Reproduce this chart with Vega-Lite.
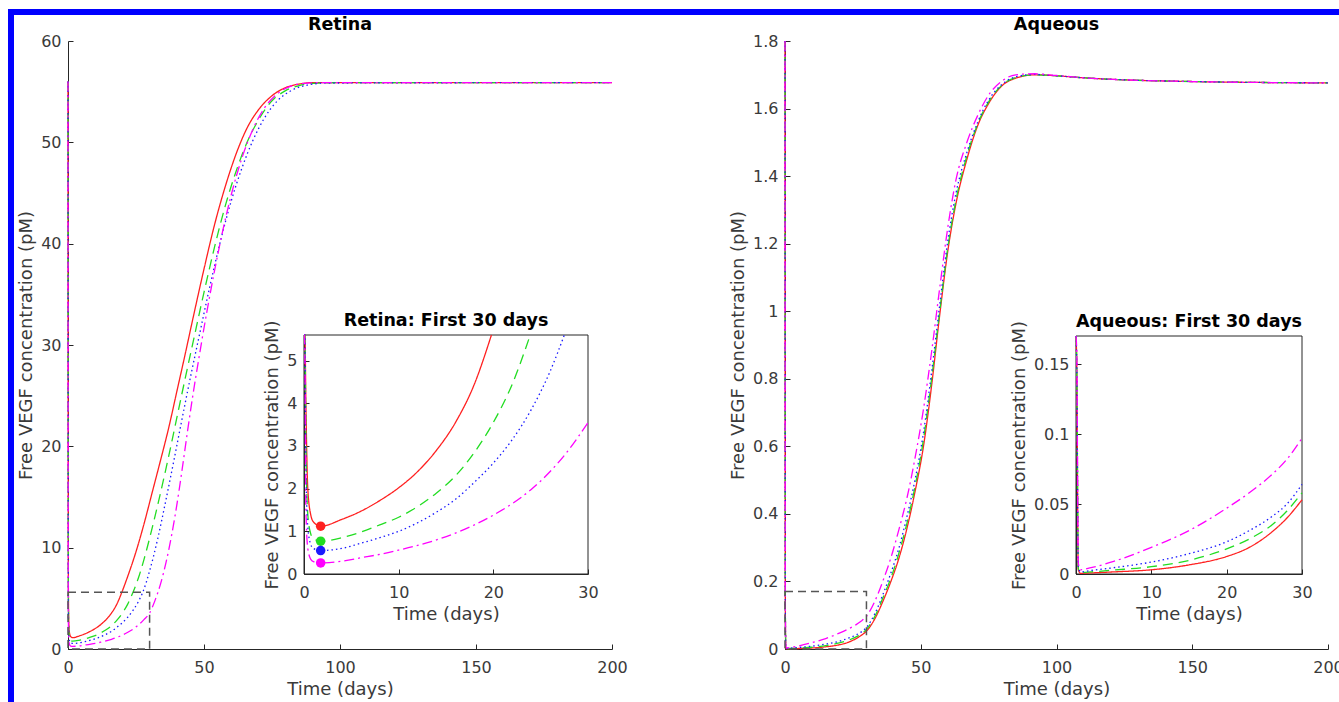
{
  "$schema": "https://vega.github.io/schema/vega-lite/v6.json",
  "width": 1340,
  "height": 700,
  "autosize": {"type": "none"},
  "padding": {"left": 11, "top": 12, "right": -12, "bottom": -10},
  "background": "white",
  "config": {
    "view": {"stroke": "#0000ff", "strokeWidth": 6},
    "font": "DejaVu Sans",
    "axis": {
      "grid": false,
      "domainColor": "#262626",
      "tickColor": "#262626",
      "labelColor": "#3a3a3a",
      "titleColor": "#3a3a3a",
      "labelFont": "DejaVu Sans",
      "titleFont": "DejaVu Sans",
      "labelFontSize": 16,
      "titleFontSize": 18,
      "titleFontWeight": "normal",
      "tickSize": -5,
      "domainWidth": 1,
      "titlePadding": 5,
      "labelFlush": false,
      "labelOverlap": false
    },
    "axisX": {"labelPadding": 15},
    "axisY": {"labelPadding": 12},
    "line": {"interpolate": "monotone", "strokeWidth": 1.3},
    "text": {"font": "DejaVu Sans", "fontWeight": "bold", "fontSize": 17.5, "color": "#000000"}
  },
  "datasets": {
    "retina": [
      {"s":"s1","t":0,"v":56},{"s":"s1","t":0.05,"v":25},{"s":"s1","t":0.1,"v":10},{"s":"s1","t":0.2,"v":4},{"s":"s1","t":0.4,"v":2},{"s":"s1","t":0.7,"v":1.4},{"s":"s1","t":1,"v":1.22},{"s":"s1","t":1.76,"v":1.12},{"s":"s1","t":4,"v":1.28},{"s":"s1","t":6,"v":1.47},{"s":"s1","t":8,"v":1.72},{"s":"s1","t":10,"v":2.02},{"s":"s1","t":12,"v":2.4},{"s":"s1","t":14,"v":2.9},{"s":"s1","t":16,"v":3.55},{"s":"s1","t":18,"v":4.45},{"s":"s1","t":19.8,"v":5.6},{"s":"s1","t":22,"v":7.2},{"s":"s1","t":25,"v":9.6},{"s":"s1","t":28,"v":12.4},{"s":"s1","t":31,"v":15.5},{"s":"s1","t":34,"v":18.6},{"s":"s1","t":37,"v":21.8},{"s":"s1","t":40,"v":25.4},{"s":"s1","t":43,"v":29},{"s":"s1","t":46,"v":32.7},{"s":"s1","t":50,"v":37.5},{"s":"s1","t":54,"v":42},{"s":"s1","t":58,"v":45.8},{"s":"s1","t":62,"v":49},{"s":"s1","t":66,"v":51.5},{"s":"s1","t":70,"v":53.2},{"s":"s1","t":75,"v":54.6},{"s":"s1","t":80,"v":55.4},{"s":"s1","t":85,"v":55.75},{"s":"s1","t":90,"v":55.9},{"s":"s1","t":100,"v":55.9},{"s":"s1","t":200,"v":55.9},
      {"s":"s2","t":0,"v":56},{"s":"s2","t":0.05,"v":22},{"s":"s2","t":0.1,"v":8},{"s":"s2","t":0.2,"v":3},{"s":"s2","t":0.4,"v":1.4},{"s":"s2","t":0.7,"v":0.95},{"s":"s2","t":1,"v":0.83},{"s":"s2","t":1.76,"v":0.77},{"s":"s2","t":4,"v":0.85},{"s":"s2","t":6,"v":0.98},{"s":"s2","t":8,"v":1.15},{"s":"s2","t":10,"v":1.33},{"s":"s2","t":12,"v":1.58},{"s":"s2","t":14,"v":1.9},{"s":"s2","t":16,"v":2.3},{"s":"s2","t":18,"v":2.85},{"s":"s2","t":20,"v":3.55},{"s":"s2","t":22,"v":4.45},{"s":"s2","t":23.9,"v":5.6},{"s":"s2","t":26,"v":7.1},{"s":"s2","t":28,"v":8.9},{"s":"s2","t":31,"v":12},{"s":"s2","t":34,"v":15.4},{"s":"s2","t":37,"v":19},{"s":"s2","t":40,"v":22.8},{"s":"s2","t":43,"v":26.6},{"s":"s2","t":46,"v":30.3},{"s":"s2","t":50,"v":35.2},{"s":"s2","t":54,"v":39.8},{"s":"s2","t":58,"v":43.9},{"s":"s2","t":62,"v":47.3},{"s":"s2","t":66,"v":50.1},{"s":"s2","t":70,"v":52.2},{"s":"s2","t":75,"v":54.1},{"s":"s2","t":80,"v":55.1},{"s":"s2","t":85,"v":55.6},{"s":"s2","t":92,"v":55.85},{"s":"s2","t":100,"v":55.9},{"s":"s2","t":200,"v":55.9},
      {"s":"s3","t":0,"v":56},{"s":"s3","t":0.05,"v":20},{"s":"s3","t":0.1,"v":7},{"s":"s3","t":0.2,"v":2.5},{"s":"s3","t":0.4,"v":1.1},{"s":"s3","t":0.7,"v":0.7},{"s":"s3","t":1,"v":0.6},{"s":"s3","t":1.76,"v":0.55},{"s":"s3","t":4,"v":0.6},{"s":"s3","t":6,"v":0.72},{"s":"s3","t":8,"v":0.85},{"s":"s3","t":10,"v":1.0},{"s":"s3","t":12,"v":1.2},{"s":"s3","t":14,"v":1.45},{"s":"s3","t":16,"v":1.75},{"s":"s3","t":18,"v":2.15},{"s":"s3","t":20,"v":2.6},{"s":"s3","t":22,"v":3.15},{"s":"s3","t":24,"v":3.85},{"s":"s3","t":26,"v":4.75},{"s":"s3","t":27.5,"v":5.6},{"s":"s3","t":30,"v":7.7},{"s":"s3","t":33,"v":10.9},{"s":"s3","t":36,"v":14.7},{"s":"s3","t":39,"v":18.7},{"s":"s3","t":42,"v":22.8},{"s":"s3","t":45,"v":26.8},{"s":"s3","t":48,"v":30.6},{"s":"s3","t":52,"v":35.6},{"s":"s3","t":56,"v":40.2},{"s":"s3","t":60,"v":44.2},{"s":"s3","t":64,"v":47.5},{"s":"s3","t":68,"v":50.2},{"s":"s3","t":72,"v":52.3},{"s":"s3","t":77,"v":54.1},{"s":"s3","t":82,"v":55.1},{"s":"s3","t":88,"v":55.65},{"s":"s3","t":95,"v":55.85},{"s":"s3","t":200,"v":55.9},
      {"s":"s4","t":0,"v":56},{"s":"s4","t":0.05,"v":18},{"s":"s4","t":0.1,"v":5},{"s":"s4","t":0.2,"v":1.5},{"s":"s4","t":0.4,"v":0.6},{"s":"s4","t":0.7,"v":0.35},{"s":"s4","t":1,"v":0.29},{"s":"s4","t":1.76,"v":0.26},{"s":"s4","t":4,"v":0.3},{"s":"s4","t":6,"v":0.38},{"s":"s4","t":8,"v":0.46},{"s":"s4","t":10,"v":0.56},{"s":"s4","t":12,"v":0.67},{"s":"s4","t":14,"v":0.8},{"s":"s4","t":16,"v":0.96},{"s":"s4","t":18,"v":1.15},{"s":"s4","t":20,"v":1.38},{"s":"s4","t":22,"v":1.65},{"s":"s4","t":24,"v":1.98},{"s":"s4","t":26,"v":2.4},{"s":"s4","t":28,"v":2.92},{"s":"s4","t":30,"v":3.55},{"s":"s4","t":32,"v":4.8},{"s":"s4","t":34,"v":6.4},{"s":"s4","t":36,"v":8.5},{"s":"s4","t":38,"v":11.1},{"s":"s4","t":40,"v":14.2},{"s":"s4","t":42,"v":17.8},{"s":"s4","t":44,"v":21.6},{"s":"s4","t":46,"v":25.2},{"s":"s4","t":48,"v":28.5},{"s":"s4","t":51,"v":33.2},{"s":"s4","t":54,"v":37.5},{"s":"s4","t":57,"v":41.4},{"s":"s4","t":60,"v":44.8},{"s":"s4","t":64,"v":48.5},{"s":"s4","t":68,"v":51.3},{"s":"s4","t":72,"v":53.3},{"s":"s4","t":77,"v":54.8},{"s":"s4","t":82,"v":55.55},{"s":"s4","t":88,"v":55.85},{"s":"s4","t":95,"v":55.9},{"s":"s4","t":200,"v":55.9}
    ],
    "aqueous": [
      {"s":"s1","t":0,"v":1.8},{"s":"s1","t":0.1,"v":0.15},{"s":"s1","t":0.3,"v":0.003},{"s":"s1","t":0.6,"v":0.0005},{"s":"s1","t":2,"v":0.0008},{"s":"s1","t":5,"v":0.0015},{"s":"s1","t":10,"v":0.003},{"s":"s1","t":15,"v":0.0065},{"s":"s1","t":20,"v":0.0125},{"s":"s1","t":23,"v":0.019},{"s":"s1","t":26,"v":0.03},{"s":"s1","t":28,"v":0.04},{"s":"s1","t":30,"v":0.053},{"s":"s1","t":33,"v":0.088},{"s":"s1","t":36,"v":0.14},{"s":"s1","t":39,"v":0.2},{"s":"s1","t":42,"v":0.27},{"s":"s1","t":45,"v":0.36},{"s":"s1","t":48,"v":0.47},{"s":"s1","t":51,"v":0.6},{"s":"s1","t":54,"v":0.78},{"s":"s1","t":57,"v":0.99},{"s":"s1","t":60,"v":1.18},{"s":"s1","t":63,"v":1.32},{"s":"s1","t":67,"v":1.45},{"s":"s1","t":71,"v":1.55},{"s":"s1","t":75,"v":1.615},{"s":"s1","t":80,"v":1.668},{"s":"s1","t":85,"v":1.69},{"s":"s1","t":92,"v":1.7},{"s":"s1","t":100,"v":1.697},{"s":"s1","t":110,"v":1.691},{"s":"s1","t":125,"v":1.685},{"s":"s1","t":150,"v":1.68},{"s":"s1","t":200,"v":1.676},
      {"s":"s2","t":0,"v":1.8},{"s":"s2","t":0.1,"v":0.15},{"s":"s2","t":0.3,"v":0.004},{"s":"s2","t":0.6,"v":0.001},{"s":"s2","t":2,"v":0.0015},{"s":"s2","t":5,"v":0.0028},{"s":"s2","t":10,"v":0.0052},{"s":"s2","t":15,"v":0.0097},{"s":"s2","t":20,"v":0.018},{"s":"s2","t":23,"v":0.025},{"s":"s2","t":26,"v":0.035},{"s":"s2","t":28,"v":0.045},{"s":"s2","t":30,"v":0.058},{"s":"s2","t":33,"v":0.095},{"s":"s2","t":36,"v":0.15},{"s":"s2","t":39,"v":0.21},{"s":"s2","t":42,"v":0.285},{"s":"s2","t":45,"v":0.375},{"s":"s2","t":48,"v":0.485},{"s":"s2","t":51,"v":0.62},{"s":"s2","t":54,"v":0.8},{"s":"s2","t":57,"v":1.0},{"s":"s2","t":60,"v":1.19},{"s":"s2","t":63,"v":1.33},{"s":"s2","t":67,"v":1.46},{"s":"s2","t":71,"v":1.555},{"s":"s2","t":75,"v":1.62},{"s":"s2","t":80,"v":1.67},{"s":"s2","t":85,"v":1.692},{"s":"s2","t":92,"v":1.7},{"s":"s2","t":100,"v":1.697},{"s":"s2","t":110,"v":1.691},{"s":"s2","t":125,"v":1.685},{"s":"s2","t":150,"v":1.68},{"s":"s2","t":200,"v":1.676},
      {"s":"s3","t":0,"v":1.8},{"s":"s3","t":0.1,"v":0.15},{"s":"s3","t":0.3,"v":0.005},{"s":"s3","t":0.6,"v":0.0015},{"s":"s3","t":2,"v":0.0025},{"s":"s3","t":5,"v":0.0045},{"s":"s3","t":10,"v":0.0085},{"s":"s3","t":15,"v":0.0145},{"s":"s3","t":20,"v":0.023},{"s":"s3","t":23,"v":0.031},{"s":"s3","t":26,"v":0.041},{"s":"s3","t":28,"v":0.05},{"s":"s3","t":30,"v":0.064},{"s":"s3","t":33,"v":0.103},{"s":"s3","t":36,"v":0.16},{"s":"s3","t":39,"v":0.225},{"s":"s3","t":42,"v":0.3},{"s":"s3","t":45,"v":0.395},{"s":"s3","t":48,"v":0.505},{"s":"s3","t":51,"v":0.64},{"s":"s3","t":54,"v":0.82},{"s":"s3","t":57,"v":1.02},{"s":"s3","t":60,"v":1.21},{"s":"s3","t":63,"v":1.35},{"s":"s3","t":67,"v":1.47},{"s":"s3","t":71,"v":1.56},{"s":"s3","t":75,"v":1.625},{"s":"s3","t":80,"v":1.672},{"s":"s3","t":85,"v":1.694},{"s":"s3","t":92,"v":1.701},{"s":"s3","t":100,"v":1.697},{"s":"s3","t":110,"v":1.691},{"s":"s3","t":125,"v":1.685},{"s":"s3","t":150,"v":1.68},{"s":"s3","t":200,"v":1.676},
      {"s":"s4","t":0,"v":1.8},{"s":"s4","t":0.1,"v":0.16},{"s":"s4","t":0.3,"v":0.008},{"s":"s4","t":0.6,"v":0.003},{"s":"s4","t":2,"v":0.0045},{"s":"s4","t":5,"v":0.009},{"s":"s4","t":10,"v":0.019},{"s":"s4","t":15,"v":0.031},{"s":"s4","t":20,"v":0.047},{"s":"s4","t":23,"v":0.058},{"s":"s4","t":26,"v":0.071},{"s":"s4","t":28,"v":0.082},{"s":"s4","t":30,"v":0.097},{"s":"s4","t":33,"v":0.14},{"s":"s4","t":36,"v":0.2},{"s":"s4","t":39,"v":0.27},{"s":"s4","t":42,"v":0.355},{"s":"s4","t":45,"v":0.45},{"s":"s4","t":48,"v":0.57},{"s":"s4","t":51,"v":0.71},{"s":"s4","t":54,"v":0.88},{"s":"s4","t":57,"v":1.07},{"s":"s4","t":60,"v":1.25},{"s":"s4","t":63,"v":1.39},{"s":"s4","t":67,"v":1.5},{"s":"s4","t":71,"v":1.58},{"s":"s4","t":75,"v":1.64},{"s":"s4","t":80,"v":1.682},{"s":"s4","t":85,"v":1.7},{"s":"s4","t":92,"v":1.703},{"s":"s4","t":100,"v":1.698},{"s":"s4","t":110,"v":1.691},{"s":"s4","t":125,"v":1.685},{"s":"s4","t":150,"v":1.68},{"s":"s4","t":200,"v":1.676}
    ],
    "minima": [
      {"s":"s1","t":1.76,"v":1.12},{"s":"s2","t":1.76,"v":0.77},{"s":"s3","t":1.76,"v":0.55},{"s":"s4","t":1.76,"v":0.26}
    ]
  },
  "layer": [
    {
      "layer": [
        {
          "data": {"name": "retina"},
          "mark": {"type": "line"},
          "encoding": {
            "x": {"field": "t", "type": "quantitative", "scale": {"domain": [0, 200], "range": [57, 601], "nice": false, "zero": false}, "axis": {"orient": "bottom", "offset": -63, "values": [0, 50, 100, 150, 200], "title": "Time (days)"}},
            "y": {"field": "v", "type": "quantitative", "scale": {"domain": [0, 60], "range": [637, 29], "nice": false}, "axis": {"orient": "left", "offset": -57, "values": [0, 10, 20, 30, 40, 50, 60], "title": "Free VEGF concentration (pM)"}},
            "color": {"field": "s", "type": "nominal", "scale": {"domain": ["s1", "s2", "s3", "s4"], "range": ["#ff2020", "#22dd22", "#1a1aff", "#ff00ff"]}, "legend": null},
            "strokeDash": {"field": "s", "type": "nominal", "scale": {"domain": ["s1", "s2", "s3", "s4"], "range": [[1, 0], [10, 6], [1.5, 3], [10, 4, 2, 4]]}, "legend": null}
          }
        },
        {
          "data": {"values": [{}]},
          "mark": {"type": "rect", "fillOpacity": 0, "stroke": "#555555", "strokeDash": [8, 5], "strokeWidth": 1.5},
          "encoding": {
            "x": {"datum": 0, "type": "quantitative", "scale": {"domain": [0, 200], "range": [57, 601], "nice": false, "zero": false}, "axis": {"orient": "bottom", "offset": -63, "values": [0, 50, 100, 150, 200], "title": "Time (days)"}},
            "x2": {"datum": 30},
            "y": {"datum": 0, "type": "quantitative", "scale": {"domain": [0, 60], "range": [637, 29], "nice": false}, "axis": {"orient": "left", "offset": -57, "values": [0, 10, 20, 30, 40, 50, 60], "title": "Free VEGF concentration (pM)"}},
            "y2": {"datum": 5.6}
          }
        },
        {
          "data": {"values": [{}]},
          "mark": {"type": "text", "text": "Retina", "dy": -16},
          "encoding": {
            "x": {"datum": 100, "type": "quantitative", "scale": {"domain": [0, 200], "range": [57, 601], "nice": false, "zero": false}, "axis": {"orient": "bottom", "offset": -63, "values": [0, 50, 100, 150, 200], "title": "Time (days)"}},
            "y": {"datum": 60, "type": "quantitative", "scale": {"domain": [0, 60], "range": [637, 29], "nice": false}, "axis": {"orient": "left", "offset": -57, "values": [0, 10, 20, 30, 40, 50, 60], "title": "Free VEGF concentration (pM)"}}
          }
        }
      ]
    },
    {
      "layer": [
        {
          "data": {"values": [{}]},
          "mark": {"type": "rect", "fillOpacity": 0, "stroke": "#262626", "strokeWidth": 1},
          "encoding": {
            "x": {"datum": 0, "type": "quantitative", "scale": {"domain": [0, 30], "range": [293, 577], "nice": false, "zero": false}, "axis": {"orient": "bottom", "offset": -138, "values": [0, 10, 20, 30], "title": "Time (days)"}},
            "x2": {"datum": 30},
            "y": {"datum": 0, "type": "quantitative", "scale": {"domain": [0, 5.6], "range": [562, 323], "nice": false, "clamp": true}, "axis": {"orient": "left", "offset": -293, "values": [0, 1, 2, 3, 4, 5], "title": "Free VEGF concentration (pM)"}},
            "y2": {"datum": 5.6}
          }
        },
        {
          "data": {"name": "retina"},
          "transform": [{"filter": "datum.t <= 30 && (datum.v <= 5.65 || datum.t < 0.3)"}],
          "mark": {"type": "line"},
          "encoding": {
            "x": {"field": "t", "type": "quantitative", "scale": {"domain": [0, 30], "range": [293, 577], "nice": false, "zero": false}, "axis": {"orient": "bottom", "offset": -138, "values": [0, 10, 20, 30], "title": "Time (days)"}},
            "y": {"field": "v", "type": "quantitative", "scale": {"domain": [0, 5.6], "range": [562, 323], "nice": false, "clamp": true}, "axis": {"orient": "left", "offset": -293, "values": [0, 1, 2, 3, 4, 5], "title": "Free VEGF concentration (pM)"}},
            "color": {"field": "s", "type": "nominal", "scale": {"domain": ["s1", "s2", "s3", "s4"], "range": ["#ff2020", "#22dd22", "#1a1aff", "#ff00ff"]}, "legend": null},
            "strokeDash": {"field": "s", "type": "nominal", "scale": {"domain": ["s1", "s2", "s3", "s4"], "range": [[1, 0], [10, 6], [1.5, 3], [10, 4, 2, 4]]}, "legend": null}
          }
        },
        {
          "data": {"name": "minima"},
          "mark": {"type": "point", "filled": true, "size": 90, "opacity": 1},
          "encoding": {
            "x": {"field": "t", "type": "quantitative", "scale": {"domain": [0, 30], "range": [293, 577], "nice": false, "zero": false}, "axis": {"orient": "bottom", "offset": -138, "values": [0, 10, 20, 30], "title": "Time (days)"}},
            "y": {"field": "v", "type": "quantitative", "scale": {"domain": [0, 5.6], "range": [562, 323], "nice": false, "clamp": true}, "axis": {"orient": "left", "offset": -293, "values": [0, 1, 2, 3, 4, 5], "title": "Free VEGF concentration (pM)"}},
            "color": {"field": "s", "type": "nominal", "scale": {"domain": ["s1", "s2", "s3", "s4"], "range": ["#ff2020", "#22dd22", "#1a1aff", "#ff00ff"]}, "legend": null}
          }
        },
        {
          "data": {"values": [{}]},
          "mark": {"type": "text", "text": "Retina: First 30 days", "dy": -14},
          "encoding": {
            "x": {"datum": 15, "type": "quantitative", "scale": {"domain": [0, 30], "range": [293, 577], "nice": false, "zero": false}, "axis": {"orient": "bottom", "offset": -138, "values": [0, 10, 20, 30], "title": "Time (days)"}},
            "y": {"datum": 5.6, "type": "quantitative", "scale": {"domain": [0, 5.6], "range": [562, 323], "nice": false, "clamp": true}, "axis": {"orient": "left", "offset": -293, "values": [0, 1, 2, 3, 4, 5], "title": "Free VEGF concentration (pM)"}}
          }
        }
      ]
    },
    {
      "layer": [
        {
          "data": {"name": "aqueous"},
          "mark": {"type": "line"},
          "encoding": {
            "x": {"field": "t", "type": "quantitative", "scale": {"domain": [0, 200], "range": [774, 1317], "nice": false, "zero": false}, "axis": {"orient": "bottom", "offset": -63, "values": [0, 50, 100, 150, 200], "title": "Time (days)"}},
            "y": {"field": "v", "type": "quantitative", "scale": {"domain": [0, 1.8], "range": [637, 29], "nice": false}, "axis": {"orient": "left", "offset": -774, "values": [0, 0.2, 0.4, 0.6, 0.8, 1, 1.2, 1.4, 1.6, 1.8], "format": "~g", "title": "Free VEGF concentration (pM)"}},
            "color": {"field": "s", "type": "nominal", "scale": {"domain": ["s1", "s2", "s3", "s4"], "range": ["#ff2020", "#22dd22", "#1a1aff", "#ff00ff"]}, "legend": null},
            "strokeDash": {"field": "s", "type": "nominal", "scale": {"domain": ["s1", "s2", "s3", "s4"], "range": [[1, 0], [10, 6], [1.5, 3], [10, 4, 2, 4]]}, "legend": null}
          }
        },
        {
          "data": {"values": [{}]},
          "mark": {"type": "rect", "fillOpacity": 0, "stroke": "#555555", "strokeDash": [8, 5], "strokeWidth": 1.5},
          "encoding": {
            "x": {"datum": 0, "type": "quantitative", "scale": {"domain": [0, 200], "range": [774, 1317], "nice": false, "zero": false}, "axis": {"orient": "bottom", "offset": -63, "values": [0, 50, 100, 150, 200], "title": "Time (days)"}},
            "x2": {"datum": 30},
            "y": {"datum": 0, "type": "quantitative", "scale": {"domain": [0, 1.8], "range": [637, 29], "nice": false}, "axis": {"orient": "left", "offset": -774, "values": [0, 0.2, 0.4, 0.6, 0.8, 1, 1.2, 1.4, 1.6, 1.8], "format": "~g", "title": "Free VEGF concentration (pM)"}},
            "y2": {"datum": 0.17}
          }
        },
        {
          "data": {"values": [{}]},
          "mark": {"type": "text", "text": "Aqueous", "dy": -16},
          "encoding": {
            "x": {"datum": 100, "type": "quantitative", "scale": {"domain": [0, 200], "range": [774, 1317], "nice": false, "zero": false}, "axis": {"orient": "bottom", "offset": -63, "values": [0, 50, 100, 150, 200], "title": "Time (days)"}},
            "y": {"datum": 1.8, "type": "quantitative", "scale": {"domain": [0, 1.8], "range": [637, 29], "nice": false}, "axis": {"orient": "left", "offset": -774, "values": [0, 0.2, 0.4, 0.6, 0.8, 1, 1.2, 1.4, 1.6, 1.8], "format": "~g", "title": "Free VEGF concentration (pM)"}}
          }
        }
      ]
    },
    {
      "layer": [
        {
          "data": {"values": [{}]},
          "mark": {"type": "rect", "fillOpacity": 0, "stroke": "#262626", "strokeWidth": 1},
          "encoding": {
            "x": {"datum": 0, "type": "quantitative", "scale": {"domain": [0, 30], "range": [1065, 1291], "nice": false, "zero": false}, "axis": {"orient": "bottom", "offset": -138, "values": [0, 10, 20, 30], "title": "Time (days)"}},
            "x2": {"datum": 30},
            "y": {"datum": 0, "type": "quantitative", "scale": {"domain": [0, 0.17], "range": [562, 324], "nice": false, "clamp": true}, "axis": {"orient": "left", "offset": -1065, "values": [0, 0.05, 0.1, 0.15], "format": "~g", "title": "Free VEGF concentration (pM)"}},
            "y2": {"datum": 0.17}
          }
        },
        {
          "data": {"name": "aqueous"},
          "transform": [{"filter": "datum.t <= 30"}],
          "mark": {"type": "line"},
          "encoding": {
            "x": {"field": "t", "type": "quantitative", "scale": {"domain": [0, 30], "range": [1065, 1291], "nice": false, "zero": false}, "axis": {"orient": "bottom", "offset": -138, "values": [0, 10, 20, 30], "title": "Time (days)"}},
            "y": {"field": "v", "type": "quantitative", "scale": {"domain": [0, 0.17], "range": [562, 324], "nice": false, "clamp": true}, "axis": {"orient": "left", "offset": -1065, "values": [0, 0.05, 0.1, 0.15], "format": "~g", "title": "Free VEGF concentration (pM)"}},
            "color": {"field": "s", "type": "nominal", "scale": {"domain": ["s1", "s2", "s3", "s4"], "range": ["#ff2020", "#22dd22", "#1a1aff", "#ff00ff"]}, "legend": null},
            "strokeDash": {"field": "s", "type": "nominal", "scale": {"domain": ["s1", "s2", "s3", "s4"], "range": [[1, 0], [10, 6], [1.5, 3], [10, 4, 2, 4]]}, "legend": null}
          }
        },
        {
          "data": {"values": [{}]},
          "mark": {"type": "text", "text": "Aqueous: First 30 days", "dy": -14},
          "encoding": {
            "x": {"datum": 15, "type": "quantitative", "scale": {"domain": [0, 30], "range": [1065, 1291], "nice": false, "zero": false}, "axis": {"orient": "bottom", "offset": -138, "values": [0, 10, 20, 30], "title": "Time (days)"}},
            "y": {"datum": 0.17, "type": "quantitative", "scale": {"domain": [0, 0.17], "range": [562, 324], "nice": false, "clamp": true}, "axis": {"orient": "left", "offset": -1065, "values": [0, 0.05, 0.1, 0.15], "format": "~g", "title": "Free VEGF concentration (pM)"}}
          }
        }
      ]
    }
  ],
  "resolve": {"scale": {"x": "independent", "y": "independent"}, "axis": {"x": "independent", "y": "independent"}}
}
